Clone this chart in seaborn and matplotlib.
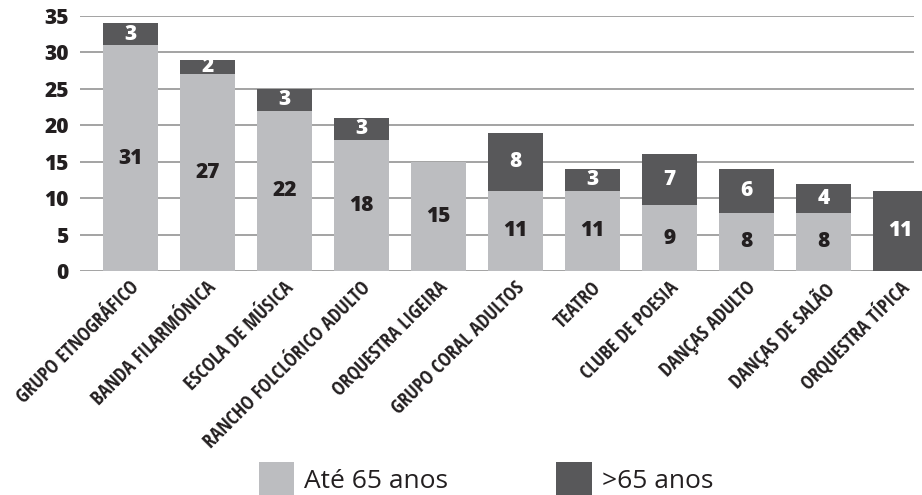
import matplotlib
matplotlib.use("Agg")
import matplotlib.pyplot as plt
import matplotlib.transforms as mtransforms
from matplotlib.patches import Patch
from matplotlib import font_manager as fm
import seaborn as sns
import pandas as pd
import numpy as np

# ---- data ----
categories = ["GRUPO ETNOGRÁFICO", "BANDA FILARMÓNICA", "ESCOLA DE MÚSICA",
              "RANCHO FOLCLÓRICO ADULTO", "ORQUESTRA LIGEIRA", "GRUPO CORAL ADULTOS",
              "TEATRO", "CLUBE DE POESIA", "DANÇAS ADULTO", "DANÇAS DE SALÃO",
              "ORQUESTRA TÍPICA"]
ate65 = [31, 27, 22, 18, 15, 11, 11, 9, 8, 8, 0]
mais65 = [3, 2, 3, 3, 0, 8, 3, 7, 6, 4, 11]
series_names = ["Até 65 anos", ">65 anos"]
yticks = [0, 5, 10, 15, 20, 25, 30, 35]

LIGHT = "#bcbdc0"
DARK = "#58585a"
TXT = "#231f20"

sns.set_theme(style="white")
plt.rcParams["font.family"] = ["Open Sans", "DejaVu Sans"]

# condensed bold font for category labels, if one is available
LBL_SIZE = 14.2
cond_fp = None
prefs = ["Open Sans Condensed", "Roboto Condensed", "Liberation Sans Narrow",
         "DejaVu Sans Condensed", "DejaVu Sans"]
cands = []
for f in fm.fontManager.ttflist:
    w = f.weight if isinstance(f.weight, int) else (700 if "bold" in str(f.weight).lower() else 400)
    cond = ("condensed" in str(f.stretch).lower()) or ("Condensed" in f.name) or ("Narrow" in f.name) \
        or ("Condensed" in f.fname) or ("Narrow" in f.fname)
    if cond and w >= 600 and "Oblique" not in f.fname and "Italic" not in f.fname:
        cands.append(f)
for p in prefs:
    for f in cands:
        if f.name == p or p.replace(" ", "") in f.fname.replace(" ", ""):
            cond_fp = fm.FontProperties(fname=f.fname, size=LBL_SIZE)
            break
    if cond_fp is not None:
        break
if cond_fp is None and cands:
    cond_fp = fm.FontProperties(fname=cands[0].fname, size=LBL_SIZE)
if cond_fp is None:
    cond_fp = fm.FontProperties(family="Open Sans", weight="bold", size=10.5)

df = pd.DataFrame({"cat": categories, "ate65": ate65, "mais65": mais65})
df["total"] = df["ate65"] + df["mais65"]

fig = plt.figure(figsize=(9.22, 4.95), dpi=100)
ax = fig.add_axes([80 / 922, 1 - 271 / 495, (914 - 80) / 922, (271 - 16) / 495])

bw = 55 / 77
sns.barplot(data=df, x="cat", y="total", color=DARK, saturation=1, width=bw, ax=ax, zorder=2)
sns.barplot(data=df, x="cat", y="ate65", color=LIGHT, saturation=1, width=bw, ax=ax, zorder=3)
for p in ax.patches:
    p.set_clip_on(False)
    p.set_linewidth(0)

# segment labels
for i, (a, b) in enumerate(zip(ate65, mais65)):
    if a > 0:
        ax.text(i, a / 2, str(a), ha="center", va="center", fontsize=15,
                fontweight=800, color=TXT, zorder=5)
    if b > 0:
        ax.text(i, a + b / 2, str(b), ha="center", va="center", fontsize=15,
                fontweight=800, color="white", zorder=5)

ax.set_ylim(0, 35)
ax.set_xlim((80 - 130.5) / 77, (914 - 130.5) / 77)
ax.set_yticks(yticks)
ax.set_yticklabels([str(t) for t in yticks], fontsize=15, fontweight=800, color=TXT)
ax.tick_params(axis="y", length=0, pad=8)
ax.tick_params(axis="x", length=0, pad=5)
ax.set_xlabel("")
ax.set_ylabel("")
ax.yaxis.grid(True, color="#8a8a8a", linewidth=1.1)
ax.set_axisbelow(True)
for s in ax.spines.values():
    s.set_visible(False)

ax.set_xticks(range(len(categories)))
ax.set_xticklabels(categories, rotation=45, ha="right", va="top",
                   rotation_mode="anchor", fontproperties=cond_fp, color=TXT)
off = mtransforms.ScaledTranslation(-1 / 100, 0, fig.dpi_scale_trans)
for lbl in ax.get_xticklabels():
    lbl.set_transform(lbl.get_transform() + off)

handles = [Patch(facecolor=LIGHT, edgecolor="none", label=series_names[0]),
           Patch(facecolor=DARK, edgecolor="none", label=series_names[1])]
fig.legend(handles=handles, loc="lower center", bbox_to_anchor=(486 / 922, -0.03),
           ncol=2, frameon=False, fontsize=19, handlelength=1.33, handleheight=1.66,
           handletextpad=0.38, columnspacing=4.1, borderpad=0, labelcolor=TXT)

fig.savefig("out.png", dpi=100, facecolor="white")
